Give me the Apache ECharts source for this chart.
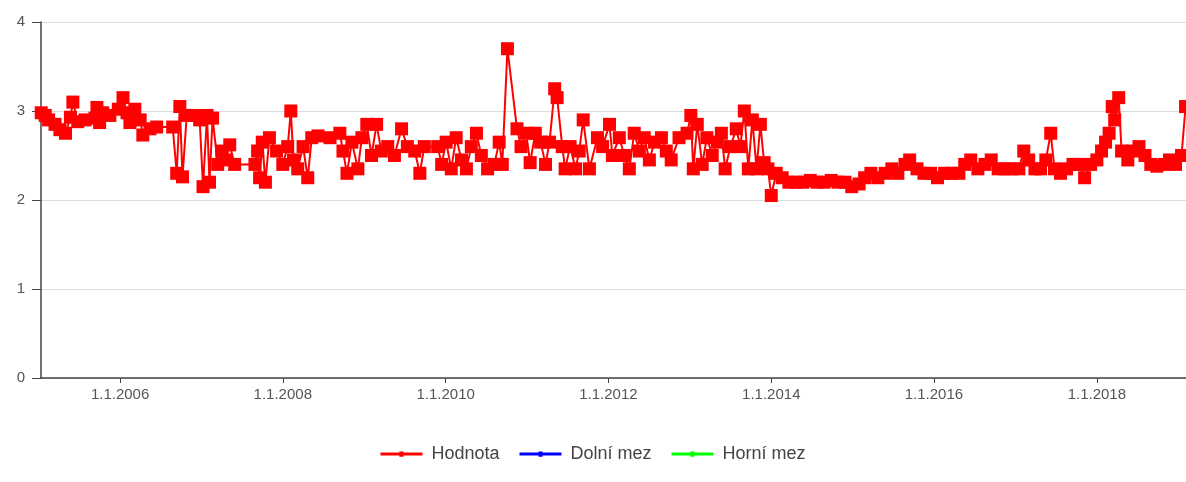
<!DOCTYPE html>
<html>
<head>
<meta charset="utf-8">
<script src="https://cdn.jsdelivr.net/npm/echarts@6/dist/echarts.min.js"></script>
<style>
  html, body { margin: 0; padding: 0; background: #fff; }
  #main { width: 1186px; height: 482px; }
</style>
</head>
<body>
<div id="main"></div>
<script>
const dates = [
  '2005-01-12', '2005-01-30', '2005-02-14', '2005-03-15', '2005-04-06', '2005-05-01', '2005-05-23', '2005-06-03',
  '2005-06-25', '2005-07-28', '2005-09-10', '2005-09-19', '2005-10-01', '2005-10-15', '2005-11-16', '2005-12-24',
  '2006-01-14', '2006-02-01', '2006-02-14', '2006-03-08', '2006-04-01', '2006-04-13', '2006-05-15', '2006-06-14',
  '2006-08-25', '2006-09-12', '2006-09-26', '2006-10-08', '2006-10-27', '2006-12-01', '2006-12-24',
  '2007-01-08', '2007-01-26', '2007-02-06', '2007-02-20', '2007-03-15', '2007-04-02', '2007-04-19', '2007-05-08',
  '2007-05-30', '2007-08-29', '2007-09-10', '2007-09-19', '2007-10-01', '2007-10-15', '2007-11-02', '2007-12-04',
  '2008-01-01', '2008-01-23', '2008-02-06', '2008-02-18', '2008-03-08', '2008-04-01', '2008-04-22', '2008-05-10',
  '2008-06-07', '2008-07-31', '2008-09-13', '2008-09-27', '2008-10-15', '2008-11-06', '2008-12-03', '2008-12-21',
  '2009-01-12', '2009-02-02', '2009-02-25', '2009-03-18', '2009-04-16', '2009-05-16', '2009-06-17', '2009-07-13',
  '2009-08-15', '2009-09-07', '2009-09-27', '2009-11-26', '2009-12-14',
  '2010-01-03', '2010-01-26', '2010-02-17', '2010-03-13', '2010-04-04', '2010-04-26', '2010-05-19', '2010-06-10',
  '2010-07-08', '2010-08-07', '2010-08-29', '2010-09-12', '2010-10-05', '2010-11-17', '2010-12-05', '2010-12-28',
  '2011-01-15', '2011-02-07', '2011-03-03', '2011-03-25', '2011-04-12', '2011-05-05', '2011-05-16', '2011-06-08',
  '2011-06-21', '2011-07-13', '2011-08-07', '2011-08-23', '2011-09-10', '2011-10-08', '2011-11-13', '2011-12-06',
  '2012-01-06', '2012-01-19', '2012-02-19', '2012-03-13', '2012-04-04', '2012-04-26', '2012-05-19', '2012-06-10',
  '2012-07-03', '2012-07-26', '2012-08-26', '2012-09-17', '2012-10-09', '2012-11-13', '2012-12-19',
  '2013-01-05', '2013-01-16', '2013-02-03', '2013-02-25', '2013-03-18', '2013-04-11', '2013-05-04', '2013-05-22',
  '2013-06-08', '2013-07-02', '2013-07-28', '2013-08-15', '2013-09-02', '2013-09-20', '2013-10-08', '2013-10-27',
  '2013-11-13', '2013-11-30', '2013-12-17',
  '2014-01-01', '2014-01-23', '2014-02-19', '2014-03-21', '2014-04-22', '2014-05-23', '2014-06-25', '2014-07-25',
  '2014-08-26', '2014-09-27', '2014-10-28', '2014-11-28', '2014-12-28',
  '2015-01-30', '2015-02-24', '2015-03-24', '2015-04-24', '2015-05-27', '2015-06-26', '2015-07-23', '2015-08-24',
  '2015-09-14', '2015-10-17', '2015-11-17', '2015-12-17',
  '2016-01-17', '2016-02-18', '2016-03-19', '2016-04-22', '2016-05-18', '2016-06-14', '2016-07-16', '2016-08-17',
  '2016-09-14', '2016-10-15', '2016-11-15', '2016-12-15',
  '2017-01-16', '2017-02-07', '2017-03-01', '2017-03-29', '2017-04-23', '2017-05-17', '2017-06-08', '2017-06-25',
  '2017-07-22', '2017-08-18', '2017-09-16', '2017-10-13', '2017-11-07', '2017-12-04',
  '2018-01-01', '2018-01-22', '2018-02-09', '2018-02-25', '2018-03-11', '2018-03-22', '2018-04-09', '2018-04-22',
  '2018-05-20', '2018-06-11', '2018-07-09', '2018-08-05', '2018-08-31', '2018-09-27', '2018-10-29', '2018-11-23',
  '2018-12-20', '2019-01-16', '2019-02-03'
];

const values = [
  2.98, 2.95, 2.9, 2.85, 2.79, 2.75, 2.93, 3.1,
  2.88, 2.9, 2.92, 3.04, 2.87, 2.98, 2.95, 3.02,
  3.15, 2.98, 2.87, 3.02, 2.9, 2.73, 2.8, 2.82,
  2.82, 2.3, 3.05, 2.26, 2.95, 2.95, 2.9,
  2.15, 2.95, 2.2, 2.92, 2.4, 2.55, 2.45, 2.62,
  2.4, 2.4, 2.55, 2.25, 2.65, 2.2, 2.7, 2.55,
  2.4, 2.6, 3.0, 2.45, 2.35, 2.6, 2.25, 2.7,
  2.72, 2.7, 2.75, 2.55, 2.3, 2.65, 2.35, 2.7,
  2.85, 2.5, 2.85, 2.55, 2.6, 2.5, 2.8, 2.6,
  2.55, 2.3, 2.6, 2.6, 2.4,
  2.65, 2.35, 2.7, 2.45, 2.35, 2.6, 2.75, 2.5,
  2.35, 2.4, 2.65, 2.4, 3.7, 2.8, 2.6, 2.75,
  2.42, 2.75, 2.65, 2.4, 2.65, 3.25, 3.15, 2.6,
  2.35, 2.6, 2.35, 2.55, 2.9, 2.35, 2.7, 2.6,
  2.85, 2.5, 2.7, 2.5, 2.35, 2.75, 2.55, 2.7,
  2.45, 2.65, 2.7, 2.55, 2.45, 2.7, 2.75,
  2.95, 2.35, 2.85, 2.4, 2.7, 2.5, 2.65, 2.75,
  2.35, 2.6, 2.8, 2.6, 3.0, 2.35, 2.9, 2.35,
  2.85, 2.42, 2.35,
  2.05, 2.3, 2.25, 2.2, 2.2, 2.2, 2.22, 2.2,
  2.2, 2.22, 2.2, 2.2, 2.15,
  2.18, 2.25, 2.3, 2.25, 2.3, 2.35, 2.3, 2.4,
  2.45, 2.35, 2.3, 2.3,
  2.25, 2.3, 2.3, 2.3, 2.4, 2.45, 2.35, 2.4,
  2.45, 2.35, 2.35, 2.35,
  2.35, 2.55, 2.45, 2.35, 2.35, 2.45, 2.75, 2.35,
  2.3, 2.35, 2.4, 2.4, 2.25, 2.4,
  2.45, 2.55, 2.65, 2.75, 3.05, 2.9, 3.15, 2.55,
  2.45, 2.55, 2.6, 2.5, 2.4, 2.38, 2.4, 2.45,
  2.4, 2.5, 3.05
];

const seriesNames = ['Hodnota', 'Dolní mez', 'Horní mez'];
const seriesColors = ['#ff0000', '#0000ff', '#00ff00'];
const tickYears = [2006, 2008, 2010, 2012, 2014, 2016, 2018];

const chart = echarts.init(document.getElementById('main'));

const ts = s => {
  const p = s.split('-');
  return Date.UTC(+p[0], +p[1] - 1, +p[2]);
};
const tickValues = tickYears.map(y => Date.UTC(y, 0, 1));
const legendIcon = 'path://M0,3.5L40,3.5L40,6.5L0,6.5Z M18,2.5L22,2.5L22,7.5L18,7.5Z';

chart.setOption({
  animation: false,
  textStyle: { fontFamily: 'Liberation Sans, Arial, sans-serif' },
  grid: { left: 41, right: 0, top: 22, bottom: 104 },
  legend: {
    top: 440,
    left: 'center',
    itemWidth: 42,
    itemHeight: 10,
    itemGap: 20,
    textStyle: { color: '#444', fontSize: 18, padding: [0, 0, 0, 4] },
    data: seriesNames.map(n => ({ name: n, icon: legendIcon }))
  },
  xAxis: {
    type: 'value',
    min: ts('2005-01-11'),
    max: ts('2019-02-05'),
    axisLine: { lineStyle: { color: '#444', width: 1.5 } },
    axisTick: { show: true, length: 5, customValues: tickValues, lineStyle: { color: '#444' } },
    axisLabel: {
      customValues: tickValues,
      color: '#555',
      fontSize: 15,
      margin: 9,
      formatter: v => '1.1.' + new Date(v).getUTCFullYear()
    },
    splitLine: { show: false }
  },
  yAxis: {
    type: 'value',
    min: 0,
    max: 4,
    interval: 1,
    axisLine: { show: true, lineStyle: { color: '#444', width: 1.5 } },
    axisTick: { show: true, length: 9, lineStyle: { color: '#444' } },
    axisLabel: { color: '#555', fontSize: 15, margin: 16 },
    splitLine: { lineStyle: { color: '#dcdcdc' } }
  },
  series: [
    {
      name: seriesNames[0],
      type: 'line',
      color: seriesColors[0],
      symbol: 'rect',
      symbolSize: 13,
      lineStyle: { width: 2 },
      data: dates.map((d, i) => [ts(d), values[i]])
    },
    { name: seriesNames[1], type: 'line', color: seriesColors[1], data: [] },
    { name: seriesNames[2], type: 'line', color: seriesColors[2], data: [] }
  ]
});
</script>
</body>
</html>
